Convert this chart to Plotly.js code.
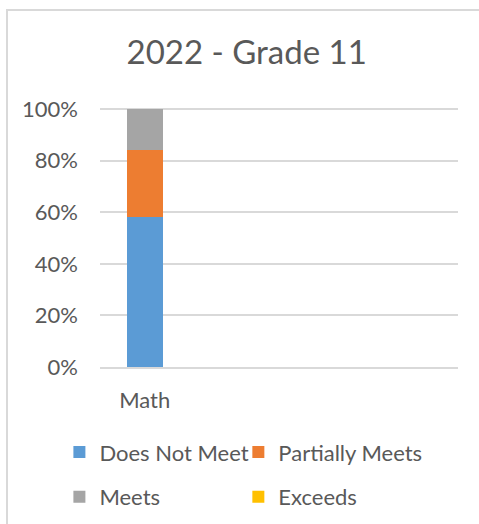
<!DOCTYPE html>
<html>
<head>
<meta charset="utf-8">
<script src="https://cdn.plot.ly/plotly-3.0.1.min.js"></script>
<style>
  html, body { margin: 0; padding: 0; background: #fff; overflow: hidden; }
  #frame { position: absolute; left: 6px; top: 9px; width: 490px; height: 530px; border: 2px solid #d9d9d9; }
  #chart { position: absolute; left: 0; top: 0; width: 479px; height: 524px; }
</style>
</head>
<body>
<div id="frame"></div>
<div id="chart"></div>
<script>
const categories = ["Math"];
const seriesNames = ["Does Not Meet", "Partially Meets", "Meets", "Exceeds"];
const doesNotMeet = [58];
const partiallyMeets = [26];
const meets = [16];
const exceeds = [0];
const yTickVals = [0, 20, 40, 60, 80, 100];
const yTickText = ["0%", "20%", "40%", "60%", "80%", "100%"];

const colors = ["#5B9BD5", "#ED7D31", "#A5A5A5", "#FFC000"];
const values = [doesNotMeet, partiallyMeets, meets, exceeds];
const legends = ["legend", "legend2", "legend3", "legend4"];

const traces = seriesNames.map((name, i) => ({
  type: "bar",
  name: name,
  x: categories,
  y: values[i],
  width: 0.4,
  marker: { color: colors[i] },
  legend: legends[i],
  hoverinfo: "none"
}));

const font = { family: "Lato, 'Open Sans', sans-serif", color: "#595959" };

const legendCommon = {
  orientation: "h",
  xref: "container", yref: "container",
  xanchor: "left", yanchor: "middle",
  font: { size: 22, color: "#595959" },
  bgcolor: "rgba(0,0,0,0)"
};

const layout = {
  width: 479, height: 524,
  paper_bgcolor: "rgba(0,0,0,0)",
  plot_bgcolor: "rgba(0,0,0,0)",
  barmode: "stack",
  margin: { l: 100, r: 21, t: 108, b: 157, autoexpand: false },
  font: font,
  title: {
    text: "2022 - Grade 11",
    font: { family: font.family, size: 33, color: "#595959" },
    x: 0.515, xanchor: "center", y: 0.9, yanchor: "middle", yref: "container"
  },
  xaxis: {
    type: "category",
    range: [-0.5, 3.5],
    showgrid: false,
    showline: true, linecolor: "#d9d9d9", linewidth: 2,
    ticks: "", tickfont: { size: 22, color: "#595959" },
    ticklabelstandoff: 13,
    automargin: false,
    fixedrange: true
  },
  yaxis: {
    range: [0, 100.4],
    tickvals: yTickVals,
    ticktext: yTickText,
    showgrid: true, gridcolor: "#d9d9d9", gridwidth: 2,
    zeroline: false,
    ticks: "", tickfont: { size: 22, color: "#595959" },
    ticklabelstandoff: 21,
    automargin: false,
    fixedrange: true
  },
  legend: Object.assign({}, legendCommon, { x: 0.124, y: 0.137 }),
  legend2: Object.assign({}, legendCommon, { x: 0.4976, y: 0.137 }),
  legend3: Object.assign({}, legendCommon, { x: 0.124, y: 0.0515 }),
  legend4: Object.assign({}, legendCommon, { x: 0.4976, y: 0.0515 }),
  showlegend: true
};

Plotly.newPlot("chart", traces, layout, { displayModeBar: false, staticPlot: true });
</script>
</body>
</html>
